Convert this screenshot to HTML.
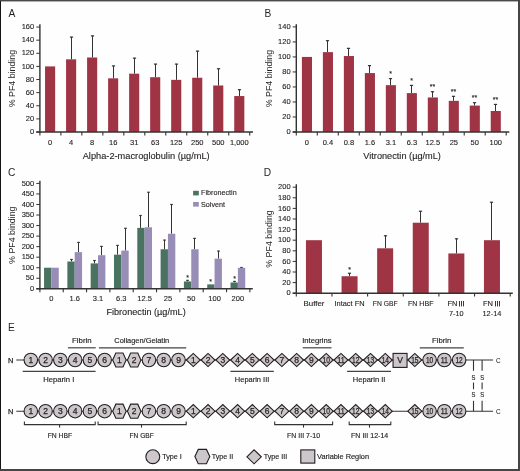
<!DOCTYPE html>
<html><head><meta charset="utf-8"><style>
html,body{margin:0;padding:0;background:#fff;}
body{width:520px;height:471px;overflow:hidden;position:relative;}
svg{position:absolute;left:0;top:0;display:block;will-change:transform;}
svg text{font-family:"Liberation Sans", sans-serif;}
.bl{position:absolute;left:0;top:0;width:1px;height:471px;background:#151515;}
.bt{position:absolute;left:0;top:0;width:520px;height:1px;background:#4a4a4a;}
.bt2{position:absolute;left:1px;top:1px;width:517px;height:1px;background:#b0b0b0;}
.br{position:absolute;left:518px;top:0;width:2px;height:471px;background:#454545;}
.bb{position:absolute;left:0;top:469px;width:520px;height:2px;background:#454545;}
</style></head><body>
<svg width="520" height="471" viewBox="0 0 520 471">
<rect x="0" y="0" width="520" height="471" fill="#fefefe"/>
<text x="8.40" y="16.50" font-size="10.2" text-anchor="start" fill="#231f20">A</text>
<line x1="39.90" y1="24.20" x2="39.90" y2="132.75" stroke="#333333" stroke-width="1.4"/>
<line x1="36.30" y1="132.00" x2="39.90" y2="132.00" stroke="#333333" stroke-width="1.0"/>
<text x="34.20" y="134.20" font-size="7.5" text-anchor="end" fill="#231f20" stroke="#231f20" stroke-width="0.12">0</text>
<line x1="36.30" y1="118.88" x2="39.90" y2="118.88" stroke="#333333" stroke-width="1.0"/>
<text x="34.20" y="121.08" font-size="7.5" text-anchor="end" fill="#231f20" stroke="#231f20" stroke-width="0.12">20</text>
<line x1="36.30" y1="105.76" x2="39.90" y2="105.76" stroke="#333333" stroke-width="1.0"/>
<text x="34.20" y="107.96" font-size="7.5" text-anchor="end" fill="#231f20" stroke="#231f20" stroke-width="0.12">40</text>
<line x1="36.30" y1="92.64" x2="39.90" y2="92.64" stroke="#333333" stroke-width="1.0"/>
<text x="34.20" y="94.84" font-size="7.5" text-anchor="end" fill="#231f20" stroke="#231f20" stroke-width="0.12">60</text>
<line x1="36.30" y1="79.52" x2="39.90" y2="79.52" stroke="#333333" stroke-width="1.0"/>
<text x="34.20" y="81.72" font-size="7.5" text-anchor="end" fill="#231f20" stroke="#231f20" stroke-width="0.12">80</text>
<line x1="36.30" y1="66.40" x2="39.90" y2="66.40" stroke="#333333" stroke-width="1.0"/>
<text x="34.20" y="68.60" font-size="7.5" text-anchor="end" fill="#231f20" stroke="#231f20" stroke-width="0.12">100</text>
<line x1="36.30" y1="53.28" x2="39.90" y2="53.28" stroke="#333333" stroke-width="1.0"/>
<text x="34.20" y="55.48" font-size="7.5" text-anchor="end" fill="#231f20" stroke="#231f20" stroke-width="0.12">120</text>
<line x1="36.30" y1="40.16" x2="39.90" y2="40.16" stroke="#333333" stroke-width="1.0"/>
<text x="34.20" y="42.36" font-size="7.5" text-anchor="end" fill="#231f20" stroke="#231f20" stroke-width="0.12">140</text>
<line x1="36.30" y1="27.04" x2="39.90" y2="27.04" stroke="#333333" stroke-width="1.0"/>
<text x="34.20" y="29.24" font-size="7.5" text-anchor="end" fill="#231f20" stroke="#231f20" stroke-width="0.12">160</text>
<rect x="45.05" y="66.40" width="10.10" height="65.60" fill="#9f3445"/>
<line x1="71.50" y1="59.32" x2="71.50" y2="36.88" stroke="#333" stroke-width="1.0"/>
<line x1="69.90" y1="37.08" x2="73.10" y2="37.08" stroke="#333" stroke-width="1.2"/>
<rect x="66.07" y="59.32" width="10.10" height="72.68" fill="#9f3445"/>
<line x1="92.50" y1="57.48" x2="92.50" y2="35.70" stroke="#333" stroke-width="1.0"/>
<line x1="90.90" y1="35.90" x2="94.10" y2="35.90" stroke="#333" stroke-width="1.2"/>
<rect x="87.09" y="57.48" width="10.10" height="74.52" fill="#9f3445"/>
<line x1="113.50" y1="78.34" x2="113.50" y2="65.74" stroke="#333" stroke-width="1.0"/>
<line x1="111.90" y1="65.94" x2="115.10" y2="65.94" stroke="#333" stroke-width="1.2"/>
<rect x="108.11" y="78.34" width="10.10" height="53.66" fill="#9f3445"/>
<line x1="134.50" y1="73.68" x2="134.50" y2="57.94" stroke="#333" stroke-width="1.0"/>
<line x1="132.90" y1="58.14" x2="136.10" y2="58.14" stroke="#333" stroke-width="1.2"/>
<rect x="129.13" y="73.68" width="10.10" height="58.32" fill="#9f3445"/>
<line x1="155.50" y1="77.22" x2="155.50" y2="63.91" stroke="#333" stroke-width="1.0"/>
<line x1="153.90" y1="64.11" x2="157.10" y2="64.11" stroke="#333" stroke-width="1.2"/>
<rect x="150.15" y="77.22" width="10.10" height="54.78" fill="#9f3445"/>
<line x1="176.50" y1="79.85" x2="176.50" y2="63.91" stroke="#333" stroke-width="1.0"/>
<line x1="174.90" y1="64.11" x2="178.10" y2="64.11" stroke="#333" stroke-width="1.2"/>
<rect x="171.17" y="79.85" width="10.10" height="52.15" fill="#9f3445"/>
<line x1="197.50" y1="77.75" x2="197.50" y2="50.92" stroke="#333" stroke-width="1.0"/>
<line x1="195.90" y1="51.12" x2="199.10" y2="51.12" stroke="#333" stroke-width="1.2"/>
<rect x="192.19" y="77.75" width="10.10" height="54.25" fill="#9f3445"/>
<line x1="218.50" y1="85.49" x2="218.50" y2="68.56" stroke="#333" stroke-width="1.0"/>
<line x1="216.90" y1="68.76" x2="220.10" y2="68.76" stroke="#333" stroke-width="1.2"/>
<rect x="213.21" y="85.49" width="10.10" height="46.51" fill="#9f3445"/>
<line x1="239.50" y1="96.05" x2="239.50" y2="89.49" stroke="#333" stroke-width="1.0"/>
<line x1="237.90" y1="89.69" x2="241.10" y2="89.69" stroke="#333" stroke-width="1.2"/>
<rect x="234.23" y="96.05" width="10.10" height="35.95" fill="#9f3445"/>
<line x1="36.30" y1="132.00" x2="253.00" y2="132.00" stroke="#333333" stroke-width="1.4"/>
<line x1="39.90" y1="132.00" x2="39.90" y2="135.40" stroke="#333333" stroke-width="1.1"/>
<line x1="60.88" y1="132.00" x2="60.88" y2="135.40" stroke="#333333" stroke-width="1.1"/>
<line x1="81.86" y1="132.00" x2="81.86" y2="135.40" stroke="#333333" stroke-width="1.1"/>
<line x1="102.84" y1="132.00" x2="102.84" y2="135.40" stroke="#333333" stroke-width="1.1"/>
<line x1="123.82" y1="132.00" x2="123.82" y2="135.40" stroke="#333333" stroke-width="1.1"/>
<line x1="144.80" y1="132.00" x2="144.80" y2="135.40" stroke="#333333" stroke-width="1.1"/>
<line x1="165.78" y1="132.00" x2="165.78" y2="135.40" stroke="#333333" stroke-width="1.1"/>
<line x1="186.76" y1="132.00" x2="186.76" y2="135.40" stroke="#333333" stroke-width="1.1"/>
<line x1="207.74" y1="132.00" x2="207.74" y2="135.40" stroke="#333333" stroke-width="1.1"/>
<line x1="228.72" y1="132.00" x2="228.72" y2="135.40" stroke="#333333" stroke-width="1.1"/>
<line x1="249.70" y1="132.00" x2="249.70" y2="135.40" stroke="#333333" stroke-width="1.1"/>
<text x="50.10" y="144.60" font-size="7.5" text-anchor="middle" fill="#231f20" stroke="#231f20" stroke-width="0.12">0</text>
<text x="71.12" y="144.60" font-size="7.5" text-anchor="middle" fill="#231f20" stroke="#231f20" stroke-width="0.12">4</text>
<text x="92.14" y="144.60" font-size="7.5" text-anchor="middle" fill="#231f20" stroke="#231f20" stroke-width="0.12">8</text>
<text x="113.16" y="144.60" font-size="7.5" text-anchor="middle" fill="#231f20" stroke="#231f20" stroke-width="0.12">16</text>
<text x="134.18" y="144.60" font-size="7.5" text-anchor="middle" fill="#231f20" stroke="#231f20" stroke-width="0.12">31</text>
<text x="155.20" y="144.60" font-size="7.5" text-anchor="middle" fill="#231f20" stroke="#231f20" stroke-width="0.12">63</text>
<text x="176.22" y="144.60" font-size="7.5" text-anchor="middle" fill="#231f20" stroke="#231f20" stroke-width="0.12">125</text>
<text x="197.24" y="144.60" font-size="7.5" text-anchor="middle" fill="#231f20" stroke="#231f20" stroke-width="0.12">250</text>
<text x="218.26" y="144.60" font-size="7.5" text-anchor="middle" fill="#231f20" stroke="#231f20" stroke-width="0.12">500</text>
<text x="239.28" y="144.60" font-size="7.5" text-anchor="middle" fill="#231f20" stroke="#231f20" stroke-width="0.12">1,000</text>
<text x="82.70" y="158.50" font-size="9.3" text-anchor="start" fill="#231f20" textLength="127.00" lengthAdjust="spacingAndGlyphs" stroke="#231f20" stroke-width="0.12">Alpha-2-macroglobulin (µg/mL)</text>
<text transform="translate(15.40,78.60) rotate(-90)" x="0" y="0" font-size="9.3" text-anchor="middle" fill="#231f20" textLength="57.4" lengthAdjust="spacingAndGlyphs">% PF4 binding</text>
<text x="264.60" y="16.60" font-size="10.2" text-anchor="start" fill="#231f20">B</text>
<line x1="296.30" y1="24.20" x2="296.30" y2="132.75" stroke="#333333" stroke-width="1.4"/>
<line x1="292.70" y1="132.00" x2="296.30" y2="132.00" stroke="#333333" stroke-width="1.0"/>
<text x="290.60" y="134.20" font-size="7.5" text-anchor="end" fill="#231f20" stroke="#231f20" stroke-width="0.12">0</text>
<line x1="292.70" y1="116.99" x2="296.30" y2="116.99" stroke="#333333" stroke-width="1.0"/>
<text x="290.60" y="119.19" font-size="7.5" text-anchor="end" fill="#231f20" stroke="#231f20" stroke-width="0.12">20</text>
<line x1="292.70" y1="101.97" x2="296.30" y2="101.97" stroke="#333333" stroke-width="1.0"/>
<text x="290.60" y="104.17" font-size="7.5" text-anchor="end" fill="#231f20" stroke="#231f20" stroke-width="0.12">40</text>
<line x1="292.70" y1="86.96" x2="296.30" y2="86.96" stroke="#333333" stroke-width="1.0"/>
<text x="290.60" y="89.16" font-size="7.5" text-anchor="end" fill="#231f20" stroke="#231f20" stroke-width="0.12">60</text>
<line x1="292.70" y1="71.94" x2="296.30" y2="71.94" stroke="#333333" stroke-width="1.0"/>
<text x="290.60" y="74.14" font-size="7.5" text-anchor="end" fill="#231f20" stroke="#231f20" stroke-width="0.12">80</text>
<line x1="292.70" y1="56.93" x2="296.30" y2="56.93" stroke="#333333" stroke-width="1.0"/>
<text x="290.60" y="59.13" font-size="7.5" text-anchor="end" fill="#231f20" stroke="#231f20" stroke-width="0.12">100</text>
<line x1="292.70" y1="41.92" x2="296.30" y2="41.92" stroke="#333333" stroke-width="1.0"/>
<text x="290.60" y="44.12" font-size="7.5" text-anchor="end" fill="#231f20" stroke="#231f20" stroke-width="0.12">120</text>
<line x1="292.70" y1="26.90" x2="296.30" y2="26.90" stroke="#333333" stroke-width="1.0"/>
<text x="290.60" y="29.10" font-size="7.5" text-anchor="end" fill="#231f20" stroke="#231f20" stroke-width="0.12">140</text>
<rect x="301.90" y="56.93" width="10.10" height="75.07" fill="#9f3445"/>
<line x1="327.50" y1="52.13" x2="327.50" y2="40.49" stroke="#333" stroke-width="1.0"/>
<line x1="325.90" y1="40.69" x2="329.10" y2="40.69" stroke="#333" stroke-width="1.2"/>
<rect x="322.88" y="52.13" width="10.10" height="79.87" fill="#9f3445"/>
<line x1="348.50" y1="56.03" x2="348.50" y2="48.15" stroke="#333" stroke-width="1.0"/>
<line x1="346.90" y1="48.35" x2="350.10" y2="48.35" stroke="#333" stroke-width="1.2"/>
<rect x="343.86" y="56.03" width="10.10" height="75.97" fill="#9f3445"/>
<line x1="369.50" y1="73.07" x2="369.50" y2="65.41" stroke="#333" stroke-width="1.0"/>
<line x1="367.90" y1="65.61" x2="371.10" y2="65.61" stroke="#333" stroke-width="1.2"/>
<rect x="364.84" y="73.07" width="10.10" height="58.93" fill="#9f3445"/>
<line x1="390.50" y1="85.16" x2="390.50" y2="78.40" stroke="#333" stroke-width="1.0"/>
<line x1="388.90" y1="78.60" x2="392.10" y2="78.60" stroke="#333" stroke-width="1.2"/>
<rect x="385.82" y="85.16" width="10.10" height="46.84" fill="#9f3445"/>
<text x="390.50" y="76.30" font-size="7.0" text-anchor="middle" fill="#231f20" stroke="#231f20" stroke-width="0.12">*</text>
<line x1="411.50" y1="93.11" x2="411.50" y2="85.23" stroke="#333" stroke-width="1.0"/>
<line x1="409.90" y1="85.43" x2="413.10" y2="85.43" stroke="#333" stroke-width="1.2"/>
<rect x="406.80" y="93.11" width="10.10" height="38.89" fill="#9f3445"/>
<text x="411.50" y="83.13" font-size="7.0" text-anchor="middle" fill="#231f20" stroke="#231f20" stroke-width="0.12">*</text>
<line x1="432.50" y1="97.47" x2="432.50" y2="91.54" stroke="#333" stroke-width="1.0"/>
<line x1="430.90" y1="91.74" x2="434.10" y2="91.74" stroke="#333" stroke-width="1.2"/>
<rect x="427.78" y="97.47" width="10.10" height="34.53" fill="#9f3445"/>
<text x="432.50" y="89.44" font-size="7.0" text-anchor="middle" fill="#231f20" stroke="#231f20" stroke-width="0.12">**</text>
<line x1="453.50" y1="100.85" x2="453.50" y2="96.12" stroke="#333" stroke-width="1.0"/>
<line x1="451.90" y1="96.32" x2="455.10" y2="96.32" stroke="#333" stroke-width="1.2"/>
<rect x="448.76" y="100.85" width="10.10" height="31.15" fill="#9f3445"/>
<text x="453.50" y="94.02" font-size="7.0" text-anchor="middle" fill="#231f20" stroke="#231f20" stroke-width="0.12">**</text>
<line x1="474.50" y1="105.58" x2="474.50" y2="102.50" stroke="#333" stroke-width="1.0"/>
<line x1="472.90" y1="102.70" x2="476.10" y2="102.70" stroke="#333" stroke-width="1.2"/>
<rect x="469.74" y="105.58" width="10.10" height="26.42" fill="#9f3445"/>
<text x="474.50" y="100.40" font-size="7.0" text-anchor="middle" fill="#231f20" stroke="#231f20" stroke-width="0.12">**</text>
<line x1="495.50" y1="110.98" x2="495.50" y2="104.22" stroke="#333" stroke-width="1.0"/>
<line x1="493.90" y1="104.42" x2="497.10" y2="104.42" stroke="#333" stroke-width="1.2"/>
<rect x="490.72" y="110.98" width="10.10" height="21.02" fill="#9f3445"/>
<text x="495.50" y="102.12" font-size="7.0" text-anchor="middle" fill="#231f20" stroke="#231f20" stroke-width="0.12">**</text>
<line x1="292.70" y1="132.00" x2="509.30" y2="132.00" stroke="#333333" stroke-width="1.4"/>
<line x1="296.30" y1="132.00" x2="296.30" y2="135.40" stroke="#333333" stroke-width="1.1"/>
<line x1="317.29" y1="132.00" x2="317.29" y2="135.40" stroke="#333333" stroke-width="1.1"/>
<line x1="338.28" y1="132.00" x2="338.28" y2="135.40" stroke="#333333" stroke-width="1.1"/>
<line x1="359.27" y1="132.00" x2="359.27" y2="135.40" stroke="#333333" stroke-width="1.1"/>
<line x1="380.26" y1="132.00" x2="380.26" y2="135.40" stroke="#333333" stroke-width="1.1"/>
<line x1="401.25" y1="132.00" x2="401.25" y2="135.40" stroke="#333333" stroke-width="1.1"/>
<line x1="422.24" y1="132.00" x2="422.24" y2="135.40" stroke="#333333" stroke-width="1.1"/>
<line x1="443.23" y1="132.00" x2="443.23" y2="135.40" stroke="#333333" stroke-width="1.1"/>
<line x1="464.22" y1="132.00" x2="464.22" y2="135.40" stroke="#333333" stroke-width="1.1"/>
<line x1="485.21" y1="132.00" x2="485.21" y2="135.40" stroke="#333333" stroke-width="1.1"/>
<line x1="506.20" y1="132.00" x2="506.20" y2="135.40" stroke="#333333" stroke-width="1.1"/>
<text x="306.95" y="144.70" font-size="7.5" text-anchor="middle" fill="#231f20" stroke="#231f20" stroke-width="0.12">0</text>
<text x="327.93" y="144.70" font-size="7.5" text-anchor="middle" fill="#231f20" stroke="#231f20" stroke-width="0.12">0.4</text>
<text x="348.91" y="144.70" font-size="7.5" text-anchor="middle" fill="#231f20" stroke="#231f20" stroke-width="0.12">0.8</text>
<text x="369.89" y="144.70" font-size="7.5" text-anchor="middle" fill="#231f20" stroke="#231f20" stroke-width="0.12">1.6</text>
<text x="390.87" y="144.70" font-size="7.5" text-anchor="middle" fill="#231f20" stroke="#231f20" stroke-width="0.12">3.1</text>
<text x="411.85" y="144.70" font-size="7.5" text-anchor="middle" fill="#231f20" stroke="#231f20" stroke-width="0.12">6.3</text>
<text x="432.83" y="144.70" font-size="7.5" text-anchor="middle" fill="#231f20" stroke="#231f20" stroke-width="0.12">12.5</text>
<text x="453.81" y="144.70" font-size="7.5" text-anchor="middle" fill="#231f20" stroke="#231f20" stroke-width="0.12">25</text>
<text x="474.79" y="144.70" font-size="7.5" text-anchor="middle" fill="#231f20" stroke="#231f20" stroke-width="0.12">50</text>
<text x="495.77" y="144.70" font-size="7.5" text-anchor="middle" fill="#231f20" stroke="#231f20" stroke-width="0.12">100</text>
<text x="363.30" y="158.80" font-size="9.3" text-anchor="start" fill="#231f20" textLength="77.60" lengthAdjust="spacingAndGlyphs" stroke="#231f20" stroke-width="0.12">Vitronectin (µg/mL)</text>
<text transform="translate(271.70,78.60) rotate(-90)" x="0" y="0" font-size="9.3" text-anchor="middle" fill="#231f20" textLength="57.4" lengthAdjust="spacingAndGlyphs">% PF4 binding</text>
<text x="8.00" y="175.60" font-size="10.2" text-anchor="start" fill="#231f20">C</text>
<line x1="39.90" y1="180.80" x2="39.90" y2="289.55" stroke="#333333" stroke-width="1.4"/>
<line x1="36.30" y1="288.80" x2="39.90" y2="288.80" stroke="#333333" stroke-width="1.0"/>
<text x="34.20" y="291.00" font-size="7.5" text-anchor="end" fill="#231f20" stroke="#231f20" stroke-width="0.12">0</text>
<line x1="36.30" y1="278.26" x2="39.90" y2="278.26" stroke="#333333" stroke-width="1.0"/>
<text x="34.20" y="280.46" font-size="7.5" text-anchor="end" fill="#231f20" stroke="#231f20" stroke-width="0.12">50</text>
<line x1="36.30" y1="267.72" x2="39.90" y2="267.72" stroke="#333333" stroke-width="1.0"/>
<text x="34.20" y="269.92" font-size="7.5" text-anchor="end" fill="#231f20" stroke="#231f20" stroke-width="0.12">100</text>
<line x1="36.30" y1="257.18" x2="39.90" y2="257.18" stroke="#333333" stroke-width="1.0"/>
<text x="34.20" y="259.38" font-size="7.5" text-anchor="end" fill="#231f20" stroke="#231f20" stroke-width="0.12">150</text>
<line x1="36.30" y1="246.64" x2="39.90" y2="246.64" stroke="#333333" stroke-width="1.0"/>
<text x="34.20" y="248.84" font-size="7.5" text-anchor="end" fill="#231f20" stroke="#231f20" stroke-width="0.12">200</text>
<line x1="36.30" y1="236.10" x2="39.90" y2="236.10" stroke="#333333" stroke-width="1.0"/>
<text x="34.20" y="238.30" font-size="7.5" text-anchor="end" fill="#231f20" stroke="#231f20" stroke-width="0.12">250</text>
<line x1="36.30" y1="225.56" x2="39.90" y2="225.56" stroke="#333333" stroke-width="1.0"/>
<text x="34.20" y="227.76" font-size="7.5" text-anchor="end" fill="#231f20" stroke="#231f20" stroke-width="0.12">300</text>
<line x1="36.30" y1="215.02" x2="39.90" y2="215.02" stroke="#333333" stroke-width="1.0"/>
<text x="34.20" y="217.22" font-size="7.5" text-anchor="end" fill="#231f20" stroke="#231f20" stroke-width="0.12">350</text>
<line x1="36.30" y1="204.48" x2="39.90" y2="204.48" stroke="#333333" stroke-width="1.0"/>
<text x="34.20" y="206.68" font-size="7.5" text-anchor="end" fill="#231f20" stroke="#231f20" stroke-width="0.12">400</text>
<line x1="36.30" y1="193.94" x2="39.90" y2="193.94" stroke="#333333" stroke-width="1.0"/>
<text x="34.20" y="196.14" font-size="7.5" text-anchor="end" fill="#231f20" stroke="#231f20" stroke-width="0.12">450</text>
<line x1="36.30" y1="183.40" x2="39.90" y2="183.40" stroke="#333333" stroke-width="1.0"/>
<text x="34.20" y="185.60" font-size="7.5" text-anchor="end" fill="#231f20" stroke="#231f20" stroke-width="0.12">500</text>
<rect x="44.05" y="267.72" width="7.35" height="21.08" fill="#4a7260"/>
<rect x="51.40" y="267.72" width="7.35" height="21.08" fill="#988db6"/>
<line x1="71.50" y1="261.50" x2="71.50" y2="259.29" stroke="#333" stroke-width="1.0"/>
<line x1="70.20" y1="259.49" x2="72.80" y2="259.49" stroke="#333" stroke-width="1.2"/>
<line x1="78.50" y1="252.16" x2="78.50" y2="242.21" stroke="#333" stroke-width="1.0"/>
<line x1="77.20" y1="242.41" x2="79.80" y2="242.41" stroke="#333" stroke-width="1.2"/>
<rect x="67.36" y="261.50" width="7.35" height="27.30" fill="#4a7260"/>
<rect x="74.71" y="252.16" width="7.35" height="36.64" fill="#988db6"/>
<line x1="94.50" y1="263.40" x2="94.50" y2="260.34" stroke="#333" stroke-width="1.0"/>
<line x1="93.20" y1="260.54" x2="95.80" y2="260.54" stroke="#333" stroke-width="1.2"/>
<line x1="101.50" y1="255.18" x2="101.50" y2="246.22" stroke="#333" stroke-width="1.0"/>
<line x1="100.20" y1="246.42" x2="102.80" y2="246.42" stroke="#333" stroke-width="1.2"/>
<rect x="90.67" y="263.40" width="7.35" height="25.40" fill="#4a7260"/>
<rect x="98.02" y="255.18" width="7.35" height="33.62" fill="#988db6"/>
<line x1="117.50" y1="254.65" x2="117.50" y2="245.23" stroke="#333" stroke-width="1.0"/>
<line x1="116.20" y1="245.43" x2="118.80" y2="245.43" stroke="#333" stroke-width="1.2"/>
<line x1="125.50" y1="250.56" x2="125.50" y2="228.09" stroke="#333" stroke-width="1.0"/>
<line x1="124.20" y1="228.29" x2="126.80" y2="228.29" stroke="#333" stroke-width="1.2"/>
<rect x="113.98" y="254.65" width="7.35" height="34.15" fill="#4a7260"/>
<rect x="121.33" y="250.56" width="7.35" height="38.24" fill="#988db6"/>
<line x1="140.50" y1="227.88" x2="140.50" y2="215.32" stroke="#333" stroke-width="1.0"/>
<line x1="139.20" y1="215.52" x2="141.80" y2="215.52" stroke="#333" stroke-width="1.2"/>
<line x1="148.50" y1="227.25" x2="148.50" y2="192.04" stroke="#333" stroke-width="1.0"/>
<line x1="147.20" y1="192.24" x2="149.80" y2="192.24" stroke="#333" stroke-width="1.2"/>
<rect x="137.29" y="227.88" width="7.35" height="60.92" fill="#4a7260"/>
<rect x="144.64" y="227.25" width="7.35" height="61.55" fill="#988db6"/>
<line x1="164.50" y1="249.25" x2="164.50" y2="239.89" stroke="#333" stroke-width="1.0"/>
<line x1="163.20" y1="240.09" x2="165.80" y2="240.09" stroke="#333" stroke-width="1.2"/>
<line x1="171.50" y1="233.78" x2="171.50" y2="204.27" stroke="#333" stroke-width="1.0"/>
<line x1="170.20" y1="204.47" x2="172.80" y2="204.47" stroke="#333" stroke-width="1.2"/>
<rect x="160.60" y="249.25" width="7.35" height="39.55" fill="#4a7260"/>
<rect x="167.95" y="233.78" width="7.35" height="55.02" fill="#988db6"/>
<line x1="187.50" y1="281.42" x2="187.50" y2="280.16" stroke="#333" stroke-width="1.0"/>
<line x1="186.20" y1="280.36" x2="188.80" y2="280.36" stroke="#333" stroke-width="1.2"/>
<line x1="194.50" y1="249.25" x2="194.50" y2="238.21" stroke="#333" stroke-width="1.0"/>
<line x1="193.20" y1="238.41" x2="195.80" y2="238.41" stroke="#333" stroke-width="1.2"/>
<rect x="183.91" y="281.42" width="7.35" height="7.38" fill="#4a7260"/>
<rect x="191.26" y="249.25" width="7.35" height="39.55" fill="#988db6"/>
<text x="187.50" y="280.06" font-size="7.0" text-anchor="middle" fill="#231f20" stroke="#231f20" stroke-width="0.12">*</text>
<line x1="218.50" y1="258.66" x2="218.50" y2="250.86" stroke="#333" stroke-width="1.0"/>
<line x1="217.20" y1="251.06" x2="219.80" y2="251.06" stroke="#333" stroke-width="1.2"/>
<rect x="207.22" y="284.37" width="7.35" height="4.43" fill="#4a7260"/>
<rect x="214.57" y="258.66" width="7.35" height="30.14" fill="#988db6"/>
<text x="210.50" y="284.27" font-size="7.0" text-anchor="middle" fill="#231f20" stroke="#231f20" stroke-width="0.12">*</text>
<line x1="234.50" y1="282.48" x2="234.50" y2="281.21" stroke="#333" stroke-width="1.0"/>
<line x1="233.20" y1="281.41" x2="235.80" y2="281.41" stroke="#333" stroke-width="1.2"/>
<line x1="241.50" y1="267.83" x2="241.50" y2="267.30" stroke="#333" stroke-width="1.0"/>
<line x1="240.20" y1="267.50" x2="242.80" y2="267.50" stroke="#333" stroke-width="1.2"/>
<rect x="230.53" y="282.48" width="7.35" height="6.32" fill="#4a7260"/>
<rect x="237.88" y="267.83" width="7.35" height="20.97" fill="#988db6"/>
<text x="234.50" y="281.11" font-size="7.0" text-anchor="middle" fill="#231f20" stroke="#231f20" stroke-width="0.12">*</text>
<line x1="36.30" y1="288.80" x2="252.80" y2="288.80" stroke="#333333" stroke-width="1.4"/>
<line x1="39.90" y1="288.80" x2="39.90" y2="292.20" stroke="#333333" stroke-width="1.1"/>
<line x1="63.23" y1="288.80" x2="63.23" y2="292.20" stroke="#333333" stroke-width="1.1"/>
<line x1="86.56" y1="288.80" x2="86.56" y2="292.20" stroke="#333333" stroke-width="1.1"/>
<line x1="109.89" y1="288.80" x2="109.89" y2="292.20" stroke="#333333" stroke-width="1.1"/>
<line x1="133.22" y1="288.80" x2="133.22" y2="292.20" stroke="#333333" stroke-width="1.1"/>
<line x1="156.55" y1="288.80" x2="156.55" y2="292.20" stroke="#333333" stroke-width="1.1"/>
<line x1="179.88" y1="288.80" x2="179.88" y2="292.20" stroke="#333333" stroke-width="1.1"/>
<line x1="203.21" y1="288.80" x2="203.21" y2="292.20" stroke="#333333" stroke-width="1.1"/>
<line x1="226.54" y1="288.80" x2="226.54" y2="292.20" stroke="#333333" stroke-width="1.1"/>
<line x1="249.87" y1="288.80" x2="249.87" y2="292.20" stroke="#333333" stroke-width="1.1"/>
<text x="51.40" y="301.20" font-size="7.5" text-anchor="middle" fill="#231f20" stroke="#231f20" stroke-width="0.12">0</text>
<text x="74.71" y="301.20" font-size="7.5" text-anchor="middle" fill="#231f20" stroke="#231f20" stroke-width="0.12">1.6</text>
<text x="98.02" y="301.20" font-size="7.5" text-anchor="middle" fill="#231f20" stroke="#231f20" stroke-width="0.12">3.1</text>
<text x="121.33" y="301.20" font-size="7.5" text-anchor="middle" fill="#231f20" stroke="#231f20" stroke-width="0.12">6.3</text>
<text x="144.64" y="301.20" font-size="7.5" text-anchor="middle" fill="#231f20" stroke="#231f20" stroke-width="0.12">12.5</text>
<text x="167.95" y="301.20" font-size="7.5" text-anchor="middle" fill="#231f20" stroke="#231f20" stroke-width="0.12">25</text>
<text x="191.26" y="301.20" font-size="7.5" text-anchor="middle" fill="#231f20" stroke="#231f20" stroke-width="0.12">50</text>
<text x="214.57" y="301.20" font-size="7.5" text-anchor="middle" fill="#231f20" stroke="#231f20" stroke-width="0.12">100</text>
<text x="237.88" y="301.20" font-size="7.5" text-anchor="middle" fill="#231f20" stroke="#231f20" stroke-width="0.12">200</text>
<text x="106.40" y="315.00" font-size="9.3" text-anchor="start" fill="#231f20" textLength="79.30" lengthAdjust="spacingAndGlyphs" stroke="#231f20" stroke-width="0.12">Fibronectin (µg/mL)</text>
<text transform="translate(15.40,235.20) rotate(-90)" x="0" y="0" font-size="9.3" text-anchor="middle" fill="#231f20" textLength="57.4" lengthAdjust="spacingAndGlyphs">% PF4 binding</text>
<rect x="193.10" y="190.80" width="5.70" height="4.60" fill="#4a7260"/>
<text x="201.05" y="195.40" font-size="7.6" text-anchor="start" fill="#231f20" textLength="35.60" lengthAdjust="spacingAndGlyphs" stroke="#231f20" stroke-width="0.12">Fibronectin</text>
<rect x="193.10" y="202.00" width="5.70" height="4.60" fill="#988db6"/>
<text x="201.05" y="206.60" font-size="7.6" text-anchor="start" fill="#231f20" textLength="24.00" lengthAdjust="spacingAndGlyphs" stroke="#231f20" stroke-width="0.12">Solvent</text>
<text x="263.80" y="175.50" font-size="10.2" text-anchor="start" fill="#231f20">D</text>
<line x1="296.30" y1="184.30" x2="296.30" y2="293.95" stroke="#333333" stroke-width="1.4"/>
<line x1="292.70" y1="293.20" x2="296.30" y2="293.20" stroke="#333333" stroke-width="1.0"/>
<text x="290.60" y="295.40" font-size="7.5" text-anchor="end" fill="#231f20" stroke="#231f20" stroke-width="0.12">0</text>
<line x1="292.70" y1="282.60" x2="296.30" y2="282.60" stroke="#333333" stroke-width="1.0"/>
<text x="290.60" y="284.80" font-size="7.5" text-anchor="end" fill="#231f20" stroke="#231f20" stroke-width="0.12">20</text>
<line x1="292.70" y1="272.00" x2="296.30" y2="272.00" stroke="#333333" stroke-width="1.0"/>
<text x="290.60" y="274.20" font-size="7.5" text-anchor="end" fill="#231f20" stroke="#231f20" stroke-width="0.12">40</text>
<line x1="292.70" y1="261.40" x2="296.30" y2="261.40" stroke="#333333" stroke-width="1.0"/>
<text x="290.60" y="263.60" font-size="7.5" text-anchor="end" fill="#231f20" stroke="#231f20" stroke-width="0.12">60</text>
<line x1="292.70" y1="250.80" x2="296.30" y2="250.80" stroke="#333333" stroke-width="1.0"/>
<text x="290.60" y="253.00" font-size="7.5" text-anchor="end" fill="#231f20" stroke="#231f20" stroke-width="0.12">80</text>
<line x1="292.70" y1="240.20" x2="296.30" y2="240.20" stroke="#333333" stroke-width="1.0"/>
<text x="290.60" y="242.40" font-size="7.5" text-anchor="end" fill="#231f20" stroke="#231f20" stroke-width="0.12">100</text>
<line x1="292.70" y1="229.60" x2="296.30" y2="229.60" stroke="#333333" stroke-width="1.0"/>
<text x="290.60" y="231.80" font-size="7.5" text-anchor="end" fill="#231f20" stroke="#231f20" stroke-width="0.12">120</text>
<line x1="292.70" y1="219.00" x2="296.30" y2="219.00" stroke="#333333" stroke-width="1.0"/>
<text x="290.60" y="221.20" font-size="7.5" text-anchor="end" fill="#231f20" stroke="#231f20" stroke-width="0.12">140</text>
<line x1="292.70" y1="208.40" x2="296.30" y2="208.40" stroke="#333333" stroke-width="1.0"/>
<text x="290.60" y="210.60" font-size="7.5" text-anchor="end" fill="#231f20" stroke="#231f20" stroke-width="0.12">160</text>
<line x1="292.70" y1="197.80" x2="296.30" y2="197.80" stroke="#333333" stroke-width="1.0"/>
<text x="290.60" y="200.00" font-size="7.5" text-anchor="end" fill="#231f20" stroke="#231f20" stroke-width="0.12">180</text>
<line x1="292.70" y1="187.20" x2="296.30" y2="187.20" stroke="#333333" stroke-width="1.0"/>
<text x="290.60" y="189.40" font-size="7.5" text-anchor="end" fill="#231f20" stroke="#231f20" stroke-width="0.12">200</text>
<rect x="305.95" y="240.20" width="16.00" height="53.00" fill="#9f3445"/>
<line x1="349.50" y1="276.24" x2="349.50" y2="273.06" stroke="#333" stroke-width="1.0"/>
<line x1="347.90" y1="273.26" x2="351.10" y2="273.26" stroke="#333" stroke-width="1.2"/>
<rect x="341.55" y="276.24" width="16.00" height="16.96" fill="#9f3445"/>
<text x="349.50" y="271.76" font-size="7.0" text-anchor="middle" fill="#231f20" stroke="#231f20" stroke-width="0.12">*</text>
<line x1="385.50" y1="248.31" x2="385.50" y2="235.59" stroke="#333" stroke-width="1.0"/>
<line x1="383.90" y1="235.79" x2="387.10" y2="235.79" stroke="#333" stroke-width="1.2"/>
<rect x="377.15" y="248.31" width="16.00" height="44.89" fill="#9f3445"/>
<line x1="420.50" y1="222.71" x2="420.50" y2="211.05" stroke="#333" stroke-width="1.0"/>
<line x1="418.90" y1="211.25" x2="422.10" y2="211.25" stroke="#333" stroke-width="1.2"/>
<rect x="412.75" y="222.71" width="16.00" height="70.49" fill="#9f3445"/>
<line x1="456.50" y1="253.45" x2="456.50" y2="238.61" stroke="#333" stroke-width="1.0"/>
<line x1="454.90" y1="238.81" x2="458.10" y2="238.81" stroke="#333" stroke-width="1.2"/>
<rect x="448.35" y="253.45" width="16.00" height="39.75" fill="#9f3445"/>
<line x1="491.50" y1="240.20" x2="491.50" y2="202.04" stroke="#333" stroke-width="1.0"/>
<line x1="489.90" y1="202.24" x2="493.10" y2="202.24" stroke="#333" stroke-width="1.2"/>
<rect x="483.95" y="240.20" width="16.00" height="53.00" fill="#9f3445"/>
<line x1="292.70" y1="293.20" x2="512.80" y2="293.20" stroke="#333333" stroke-width="1.4"/>
<line x1="296.30" y1="293.20" x2="296.30" y2="296.60" stroke="#333333" stroke-width="1.1"/>
<line x1="331.95" y1="293.20" x2="331.95" y2="296.60" stroke="#333333" stroke-width="1.1"/>
<line x1="367.60" y1="293.20" x2="367.60" y2="296.60" stroke="#333333" stroke-width="1.1"/>
<line x1="403.25" y1="293.20" x2="403.25" y2="296.60" stroke="#333333" stroke-width="1.1"/>
<line x1="438.90" y1="293.20" x2="438.90" y2="296.60" stroke="#333333" stroke-width="1.1"/>
<line x1="474.55" y1="293.20" x2="474.55" y2="296.60" stroke="#333333" stroke-width="1.1"/>
<line x1="510.20" y1="293.20" x2="510.20" y2="296.60" stroke="#333333" stroke-width="1.1"/>
<text x="313.95" y="306.40" font-size="7.5" text-anchor="middle" fill="#231f20" textLength="20.90" lengthAdjust="spacingAndGlyphs" stroke="#231f20" stroke-width="0.12">Buffer</text>
<text x="349.55" y="306.40" font-size="7.5" text-anchor="middle" fill="#231f20" textLength="30.10" lengthAdjust="spacingAndGlyphs" stroke="#231f20" stroke-width="0.12">Intact FN</text>
<text x="385.15" y="306.40" font-size="7.5" text-anchor="middle" fill="#231f20" textLength="24.70" lengthAdjust="spacingAndGlyphs" stroke="#231f20" stroke-width="0.12">FN GBF</text>
<text x="420.75" y="306.40" font-size="7.5" text-anchor="middle" fill="#231f20" textLength="25.50" lengthAdjust="spacingAndGlyphs" stroke="#231f20" stroke-width="0.12">FN HBF</text>
<text x="456.35" y="315.50" font-size="7.5" text-anchor="middle" fill="#231f20" textLength="14.60" lengthAdjust="spacingAndGlyphs" stroke="#231f20" stroke-width="0.12">7-10</text>
<text x="491.95" y="315.50" font-size="7.5" text-anchor="middle" fill="#231f20" textLength="18.90" lengthAdjust="spacingAndGlyphs" stroke="#231f20" stroke-width="0.12">12-14</text>
<text x="447.40" y="306.40" font-size="7.5" text-anchor="start" fill="#231f20" stroke="#231f20" stroke-width="0.12">FN</text>
<rect x="459.00" y="301.00" width="1.00" height="5.40" fill="#3a3a3a"/>
<rect x="461.00" y="301.00" width="1.00" height="5.40" fill="#3a3a3a"/>
<rect x="463.00" y="301.00" width="1.00" height="5.40" fill="#3a3a3a"/>
<text x="483.00" y="306.40" font-size="7.5" text-anchor="start" fill="#231f20" stroke="#231f20" stroke-width="0.12">FN</text>
<rect x="495.00" y="301.00" width="1.00" height="5.40" fill="#3a3a3a"/>
<rect x="497.00" y="301.00" width="1.00" height="5.40" fill="#3a3a3a"/>
<rect x="499.00" y="301.00" width="1.00" height="5.40" fill="#3a3a3a"/>
<text transform="translate(271.70,239.00) rotate(-90)" x="0" y="0" font-size="9.3" text-anchor="middle" fill="#231f20" textLength="57.4" lengthAdjust="spacingAndGlyphs">% PF4 binding</text>
<text x="7.90" y="331.10" font-size="10.2" text-anchor="start" fill="#231f20">E</text>
<line x1="16.30" y1="360.00" x2="493.00" y2="360.00" stroke="#333" stroke-width="1.1"/>
<text x="10.60" y="362.50" font-size="7.4" text-anchor="middle" fill="#231f20" stroke="#231f20" stroke-width="0.25">N</text>
<text x="498.20" y="362.60" font-size="7.6" text-anchor="middle" fill="#231f20" textLength="4.60" lengthAdjust="spacingAndGlyphs" stroke="#231f20" stroke-width="0.08">C</text>
<circle cx="30.80" cy="360.00" r="6.75" fill="#cdc7cb" stroke="#231f20" stroke-width="1.1"/>
<text x="30.80" y="362.75" font-size="8.5" text-anchor="middle" fill="#231f20" stroke="#231f20" stroke-width="0.25">1</text>
<circle cx="45.57" cy="360.00" r="6.75" fill="#cdc7cb" stroke="#231f20" stroke-width="1.1"/>
<text x="45.57" y="362.75" font-size="8.5" text-anchor="middle" fill="#231f20" stroke="#231f20" stroke-width="0.25">2</text>
<circle cx="60.34" cy="360.00" r="6.75" fill="#cdc7cb" stroke="#231f20" stroke-width="1.1"/>
<text x="60.34" y="362.75" font-size="8.5" text-anchor="middle" fill="#231f20" stroke="#231f20" stroke-width="0.25">3</text>
<circle cx="75.11" cy="360.00" r="6.75" fill="#cdc7cb" stroke="#231f20" stroke-width="1.1"/>
<text x="75.11" y="362.75" font-size="8.5" text-anchor="middle" fill="#231f20" stroke="#231f20" stroke-width="0.25">4</text>
<circle cx="89.88" cy="360.00" r="6.75" fill="#cdc7cb" stroke="#231f20" stroke-width="1.1"/>
<text x="89.88" y="362.75" font-size="8.5" text-anchor="middle" fill="#231f20" stroke="#231f20" stroke-width="0.25">5</text>
<circle cx="104.65" cy="360.00" r="6.75" fill="#cdc7cb" stroke="#231f20" stroke-width="1.1"/>
<text x="104.65" y="362.75" font-size="8.5" text-anchor="middle" fill="#231f20" stroke="#231f20" stroke-width="0.25">6</text>
<polygon points="112.67,360.00 115.84,352.95 123.00,352.95 126.17,360.00 123.00,367.05 115.84,367.05" fill="#cdc7cb" stroke="#231f20" stroke-width="1.1"/>
<text x="119.42" y="362.75" font-size="8.5" text-anchor="middle" fill="#231f20" stroke="#231f20" stroke-width="0.25">1</text>
<polygon points="127.44,360.00 130.61,352.95 137.77,352.95 140.94,360.00 137.77,367.05 130.61,367.05" fill="#cdc7cb" stroke="#231f20" stroke-width="1.1"/>
<text x="134.19" y="362.75" font-size="8.5" text-anchor="middle" fill="#231f20" stroke="#231f20" stroke-width="0.25">2</text>
<circle cx="148.96" cy="360.00" r="6.75" fill="#cdc7cb" stroke="#231f20" stroke-width="1.1"/>
<text x="148.96" y="362.75" font-size="8.5" text-anchor="middle" fill="#231f20" stroke="#231f20" stroke-width="0.25">7</text>
<circle cx="163.73" cy="360.00" r="6.75" fill="#cdc7cb" stroke="#231f20" stroke-width="1.1"/>
<text x="163.73" y="362.75" font-size="8.5" text-anchor="middle" fill="#231f20" stroke="#231f20" stroke-width="0.25">8</text>
<circle cx="178.50" cy="360.00" r="6.75" fill="#cdc7cb" stroke="#231f20" stroke-width="1.1"/>
<text x="178.50" y="362.75" font-size="8.5" text-anchor="middle" fill="#231f20" stroke="#231f20" stroke-width="0.25">9</text>
<polygon points="186.27,360.00 193.27,353.40 200.27,360.00 193.27,366.60" fill="#cdc7cb" stroke="#231f20" stroke-width="1.1" stroke-linejoin="miter"/>
<text x="193.27" y="362.75" font-size="8.5" text-anchor="middle" fill="#231f20" stroke="#231f20" stroke-width="0.25">1</text>
<polygon points="201.04,360.00 208.04,353.40 215.04,360.00 208.04,366.60" fill="#cdc7cb" stroke="#231f20" stroke-width="1.1" stroke-linejoin="miter"/>
<text x="208.04" y="362.75" font-size="8.5" text-anchor="middle" fill="#231f20" stroke="#231f20" stroke-width="0.25">2</text>
<polygon points="215.81,360.00 222.81,353.40 229.81,360.00 222.81,366.60" fill="#cdc7cb" stroke="#231f20" stroke-width="1.1" stroke-linejoin="miter"/>
<text x="222.81" y="362.75" font-size="8.5" text-anchor="middle" fill="#231f20" stroke="#231f20" stroke-width="0.25">3</text>
<polygon points="230.58,360.00 237.58,353.40 244.58,360.00 237.58,366.60" fill="#cdc7cb" stroke="#231f20" stroke-width="1.1" stroke-linejoin="miter"/>
<text x="237.58" y="362.75" font-size="8.5" text-anchor="middle" fill="#231f20" stroke="#231f20" stroke-width="0.25">4</text>
<polygon points="245.35,360.00 252.35,353.40 259.35,360.00 252.35,366.60" fill="#cdc7cb" stroke="#231f20" stroke-width="1.1" stroke-linejoin="miter"/>
<text x="252.35" y="362.75" font-size="8.5" text-anchor="middle" fill="#231f20" stroke="#231f20" stroke-width="0.25">5</text>
<polygon points="260.12,360.00 267.12,353.40 274.12,360.00 267.12,366.60" fill="#cdc7cb" stroke="#231f20" stroke-width="1.1" stroke-linejoin="miter"/>
<text x="267.12" y="362.75" font-size="8.5" text-anchor="middle" fill="#231f20" stroke="#231f20" stroke-width="0.25">6</text>
<polygon points="274.89,360.00 281.89,353.40 288.89,360.00 281.89,366.60" fill="#cdc7cb" stroke="#231f20" stroke-width="1.1" stroke-linejoin="miter"/>
<text x="281.89" y="362.75" font-size="8.5" text-anchor="middle" fill="#231f20" stroke="#231f20" stroke-width="0.25">7</text>
<polygon points="289.66,360.00 296.66,353.40 303.66,360.00 296.66,366.60" fill="#cdc7cb" stroke="#231f20" stroke-width="1.1" stroke-linejoin="miter"/>
<text x="296.66" y="362.75" font-size="8.5" text-anchor="middle" fill="#231f20" stroke="#231f20" stroke-width="0.25">8</text>
<polygon points="304.43,360.00 311.43,353.40 318.43,360.00 311.43,366.60" fill="#cdc7cb" stroke="#231f20" stroke-width="1.1" stroke-linejoin="miter"/>
<text x="311.43" y="362.75" font-size="8.5" text-anchor="middle" fill="#231f20" stroke="#231f20" stroke-width="0.25">9</text>
<polygon points="319.20,360.00 326.20,353.40 333.20,360.00 326.20,366.60" fill="#cdc7cb" stroke="#231f20" stroke-width="1.1" stroke-linejoin="miter"/>
<text x="326.20" y="362.75" font-size="8.5" text-anchor="middle" fill="#231f20" textLength="7.30" lengthAdjust="spacingAndGlyphs" stroke="#231f20" stroke-width="0.25">10</text>
<polygon points="333.97,360.00 340.97,353.40 347.97,360.00 340.97,366.60" fill="#cdc7cb" stroke="#231f20" stroke-width="1.1" stroke-linejoin="miter"/>
<text x="340.97" y="362.75" font-size="8.5" text-anchor="middle" fill="#231f20" textLength="7.30" lengthAdjust="spacingAndGlyphs" stroke="#231f20" stroke-width="0.25">11</text>
<polygon points="348.74,360.00 355.74,353.40 362.74,360.00 355.74,366.60" fill="#cdc7cb" stroke="#231f20" stroke-width="1.1" stroke-linejoin="miter"/>
<text x="355.74" y="362.75" font-size="8.5" text-anchor="middle" fill="#231f20" textLength="7.30" lengthAdjust="spacingAndGlyphs" stroke="#231f20" stroke-width="0.25">12</text>
<polygon points="363.51,360.00 370.51,353.40 377.51,360.00 370.51,366.60" fill="#cdc7cb" stroke="#231f20" stroke-width="1.1" stroke-linejoin="miter"/>
<text x="370.51" y="362.75" font-size="8.5" text-anchor="middle" fill="#231f20" textLength="7.30" lengthAdjust="spacingAndGlyphs" stroke="#231f20" stroke-width="0.25">13</text>
<polygon points="378.28,360.00 385.28,353.40 392.28,360.00 385.28,366.60" fill="#cdc7cb" stroke="#231f20" stroke-width="1.1" stroke-linejoin="miter"/>
<text x="385.28" y="362.75" font-size="8.5" text-anchor="middle" fill="#231f20" textLength="7.30" lengthAdjust="spacingAndGlyphs" stroke="#231f20" stroke-width="0.25">14</text>
<rect x="393.05" y="353.40" width="14.0" height="14.0" fill="#cdc7cb" stroke="#231f20" stroke-width="1.1"/>
<text x="400.05" y="363.15" font-size="8.5" text-anchor="middle" fill="#231f20" stroke="#231f20" stroke-width="0.25">V</text>
<polygon points="407.82,360.00 414.82,353.40 421.82,360.00 414.82,366.60" fill="#cdc7cb" stroke="#231f20" stroke-width="1.1" stroke-linejoin="miter"/>
<text x="414.82" y="362.75" font-size="8.5" text-anchor="middle" fill="#231f20" textLength="7.30" lengthAdjust="spacingAndGlyphs" stroke="#231f20" stroke-width="0.25">15</text>
<circle cx="429.59" cy="360.00" r="6.75" fill="#cdc7cb" stroke="#231f20" stroke-width="1.1"/>
<text x="429.59" y="362.75" font-size="8.5" text-anchor="middle" fill="#231f20" textLength="7.30" lengthAdjust="spacingAndGlyphs" stroke="#231f20" stroke-width="0.25">10</text>
<circle cx="444.36" cy="360.00" r="6.75" fill="#cdc7cb" stroke="#231f20" stroke-width="1.1"/>
<text x="444.36" y="362.75" font-size="8.5" text-anchor="middle" fill="#231f20" textLength="7.30" lengthAdjust="spacingAndGlyphs" stroke="#231f20" stroke-width="0.25">11</text>
<circle cx="459.13" cy="360.00" r="6.75" fill="#cdc7cb" stroke="#231f20" stroke-width="1.1"/>
<text x="459.13" y="362.75" font-size="8.5" text-anchor="middle" fill="#231f20" textLength="7.30" lengthAdjust="spacingAndGlyphs" stroke="#231f20" stroke-width="0.25">12</text>
<line x1="16.30" y1="411.20" x2="493.00" y2="411.20" stroke="#333" stroke-width="1.1"/>
<text x="10.60" y="413.70" font-size="7.4" text-anchor="middle" fill="#231f20" stroke="#231f20" stroke-width="0.25">N</text>
<text x="498.20" y="413.80" font-size="7.6" text-anchor="middle" fill="#231f20" textLength="4.60" lengthAdjust="spacingAndGlyphs" stroke="#231f20" stroke-width="0.08">C</text>
<circle cx="30.80" cy="411.20" r="6.75" fill="#cdc7cb" stroke="#231f20" stroke-width="1.1"/>
<text x="30.80" y="413.95" font-size="8.5" text-anchor="middle" fill="#231f20" stroke="#231f20" stroke-width="0.25">1</text>
<circle cx="45.57" cy="411.20" r="6.75" fill="#cdc7cb" stroke="#231f20" stroke-width="1.1"/>
<text x="45.57" y="413.95" font-size="8.5" text-anchor="middle" fill="#231f20" stroke="#231f20" stroke-width="0.25">2</text>
<circle cx="60.34" cy="411.20" r="6.75" fill="#cdc7cb" stroke="#231f20" stroke-width="1.1"/>
<text x="60.34" y="413.95" font-size="8.5" text-anchor="middle" fill="#231f20" stroke="#231f20" stroke-width="0.25">3</text>
<circle cx="75.11" cy="411.20" r="6.75" fill="#cdc7cb" stroke="#231f20" stroke-width="1.1"/>
<text x="75.11" y="413.95" font-size="8.5" text-anchor="middle" fill="#231f20" stroke="#231f20" stroke-width="0.25">4</text>
<circle cx="89.88" cy="411.20" r="6.75" fill="#cdc7cb" stroke="#231f20" stroke-width="1.1"/>
<text x="89.88" y="413.95" font-size="8.5" text-anchor="middle" fill="#231f20" stroke="#231f20" stroke-width="0.25">5</text>
<circle cx="104.65" cy="411.20" r="6.75" fill="#cdc7cb" stroke="#231f20" stroke-width="1.1"/>
<text x="104.65" y="413.95" font-size="8.5" text-anchor="middle" fill="#231f20" stroke="#231f20" stroke-width="0.25">6</text>
<polygon points="112.67,411.20 115.84,404.15 123.00,404.15 126.17,411.20 123.00,418.25 115.84,418.25" fill="#cdc7cb" stroke="#231f20" stroke-width="1.1"/>
<text x="119.42" y="413.95" font-size="8.5" text-anchor="middle" fill="#231f20" stroke="#231f20" stroke-width="0.25">1</text>
<polygon points="127.44,411.20 130.61,404.15 137.77,404.15 140.94,411.20 137.77,418.25 130.61,418.25" fill="#cdc7cb" stroke="#231f20" stroke-width="1.1"/>
<text x="134.19" y="413.95" font-size="8.5" text-anchor="middle" fill="#231f20" stroke="#231f20" stroke-width="0.25">2</text>
<circle cx="148.96" cy="411.20" r="6.75" fill="#cdc7cb" stroke="#231f20" stroke-width="1.1"/>
<text x="148.96" y="413.95" font-size="8.5" text-anchor="middle" fill="#231f20" stroke="#231f20" stroke-width="0.25">7</text>
<circle cx="163.73" cy="411.20" r="6.75" fill="#cdc7cb" stroke="#231f20" stroke-width="1.1"/>
<text x="163.73" y="413.95" font-size="8.5" text-anchor="middle" fill="#231f20" stroke="#231f20" stroke-width="0.25">8</text>
<circle cx="178.50" cy="411.20" r="6.75" fill="#cdc7cb" stroke="#231f20" stroke-width="1.1"/>
<text x="178.50" y="413.95" font-size="8.5" text-anchor="middle" fill="#231f20" stroke="#231f20" stroke-width="0.25">9</text>
<polygon points="186.27,411.20 193.27,404.60 200.27,411.20 193.27,417.80" fill="#cdc7cb" stroke="#231f20" stroke-width="1.1" stroke-linejoin="miter"/>
<text x="193.27" y="413.95" font-size="8.5" text-anchor="middle" fill="#231f20" stroke="#231f20" stroke-width="0.25">1</text>
<polygon points="201.04,411.20 208.04,404.60 215.04,411.20 208.04,417.80" fill="#cdc7cb" stroke="#231f20" stroke-width="1.1" stroke-linejoin="miter"/>
<text x="208.04" y="413.95" font-size="8.5" text-anchor="middle" fill="#231f20" stroke="#231f20" stroke-width="0.25">2</text>
<polygon points="215.81,411.20 222.81,404.60 229.81,411.20 222.81,417.80" fill="#cdc7cb" stroke="#231f20" stroke-width="1.1" stroke-linejoin="miter"/>
<text x="222.81" y="413.95" font-size="8.5" text-anchor="middle" fill="#231f20" stroke="#231f20" stroke-width="0.25">3</text>
<polygon points="230.58,411.20 237.58,404.60 244.58,411.20 237.58,417.80" fill="#cdc7cb" stroke="#231f20" stroke-width="1.1" stroke-linejoin="miter"/>
<text x="237.58" y="413.95" font-size="8.5" text-anchor="middle" fill="#231f20" stroke="#231f20" stroke-width="0.25">4</text>
<polygon points="245.35,411.20 252.35,404.60 259.35,411.20 252.35,417.80" fill="#cdc7cb" stroke="#231f20" stroke-width="1.1" stroke-linejoin="miter"/>
<text x="252.35" y="413.95" font-size="8.5" text-anchor="middle" fill="#231f20" stroke="#231f20" stroke-width="0.25">5</text>
<polygon points="260.12,411.20 267.12,404.60 274.12,411.20 267.12,417.80" fill="#cdc7cb" stroke="#231f20" stroke-width="1.1" stroke-linejoin="miter"/>
<text x="267.12" y="413.95" font-size="8.5" text-anchor="middle" fill="#231f20" stroke="#231f20" stroke-width="0.25">6</text>
<polygon points="274.89,411.20 281.89,404.60 288.89,411.20 281.89,417.80" fill="#cdc7cb" stroke="#231f20" stroke-width="1.1" stroke-linejoin="miter"/>
<text x="281.89" y="413.95" font-size="8.5" text-anchor="middle" fill="#231f20" stroke="#231f20" stroke-width="0.25">7</text>
<polygon points="289.66,411.20 296.66,404.60 303.66,411.20 296.66,417.80" fill="#cdc7cb" stroke="#231f20" stroke-width="1.1" stroke-linejoin="miter"/>
<text x="296.66" y="413.95" font-size="8.5" text-anchor="middle" fill="#231f20" stroke="#231f20" stroke-width="0.25">8</text>
<polygon points="304.43,411.20 311.43,404.60 318.43,411.20 311.43,417.80" fill="#cdc7cb" stroke="#231f20" stroke-width="1.1" stroke-linejoin="miter"/>
<text x="311.43" y="413.95" font-size="8.5" text-anchor="middle" fill="#231f20" stroke="#231f20" stroke-width="0.25">9</text>
<polygon points="319.20,411.20 326.20,404.60 333.20,411.20 326.20,417.80" fill="#cdc7cb" stroke="#231f20" stroke-width="1.1" stroke-linejoin="miter"/>
<text x="326.20" y="413.95" font-size="8.5" text-anchor="middle" fill="#231f20" textLength="7.30" lengthAdjust="spacingAndGlyphs" stroke="#231f20" stroke-width="0.25">10</text>
<polygon points="333.97,411.20 340.97,404.60 347.97,411.20 340.97,417.80" fill="#cdc7cb" stroke="#231f20" stroke-width="1.1" stroke-linejoin="miter"/>
<text x="340.97" y="413.95" font-size="8.5" text-anchor="middle" fill="#231f20" textLength="7.30" lengthAdjust="spacingAndGlyphs" stroke="#231f20" stroke-width="0.25">11</text>
<polygon points="348.74,411.20 355.74,404.60 362.74,411.20 355.74,417.80" fill="#cdc7cb" stroke="#231f20" stroke-width="1.1" stroke-linejoin="miter"/>
<text x="355.74" y="413.95" font-size="8.5" text-anchor="middle" fill="#231f20" textLength="7.30" lengthAdjust="spacingAndGlyphs" stroke="#231f20" stroke-width="0.25">12</text>
<polygon points="363.51,411.20 370.51,404.60 377.51,411.20 370.51,417.80" fill="#cdc7cb" stroke="#231f20" stroke-width="1.1" stroke-linejoin="miter"/>
<text x="370.51" y="413.95" font-size="8.5" text-anchor="middle" fill="#231f20" textLength="7.30" lengthAdjust="spacingAndGlyphs" stroke="#231f20" stroke-width="0.25">13</text>
<polygon points="378.28,411.20 385.28,404.60 392.28,411.20 385.28,417.80" fill="#cdc7cb" stroke="#231f20" stroke-width="1.1" stroke-linejoin="miter"/>
<text x="385.28" y="413.95" font-size="8.5" text-anchor="middle" fill="#231f20" textLength="7.30" lengthAdjust="spacingAndGlyphs" stroke="#231f20" stroke-width="0.25">14</text>
<polygon points="407.82,411.20 414.82,404.60 421.82,411.20 414.82,417.80" fill="#cdc7cb" stroke="#231f20" stroke-width="1.1" stroke-linejoin="miter"/>
<text x="414.82" y="413.95" font-size="8.5" text-anchor="middle" fill="#231f20" textLength="7.30" lengthAdjust="spacingAndGlyphs" stroke="#231f20" stroke-width="0.25">15</text>
<circle cx="429.59" cy="411.20" r="6.75" fill="#cdc7cb" stroke="#231f20" stroke-width="1.1"/>
<text x="429.59" y="413.95" font-size="8.5" text-anchor="middle" fill="#231f20" textLength="7.30" lengthAdjust="spacingAndGlyphs" stroke="#231f20" stroke-width="0.25">10</text>
<circle cx="444.36" cy="411.20" r="6.75" fill="#cdc7cb" stroke="#231f20" stroke-width="1.1"/>
<text x="444.36" y="413.95" font-size="8.5" text-anchor="middle" fill="#231f20" textLength="7.30" lengthAdjust="spacingAndGlyphs" stroke="#231f20" stroke-width="0.25">11</text>
<circle cx="459.13" cy="411.20" r="6.75" fill="#cdc7cb" stroke="#231f20" stroke-width="1.1"/>
<text x="459.13" y="413.95" font-size="8.5" text-anchor="middle" fill="#231f20" textLength="7.30" lengthAdjust="spacingAndGlyphs" stroke="#231f20" stroke-width="0.25">12</text>
<line x1="67.90" y1="347.80" x2="95.70" y2="347.80" stroke="#444" stroke-width="1.2"/>
<text x="72.05" y="342.70" font-size="7.3" text-anchor="start" fill="#231f20" textLength="19.60" lengthAdjust="spacingAndGlyphs" stroke="#231f20" stroke-width="0.15">Fibrin</text>
<line x1="98.90" y1="347.80" x2="186.20" y2="347.80" stroke="#444" stroke-width="1.2"/>
<text x="114.30" y="342.70" font-size="7.3" text-anchor="start" fill="#231f20" textLength="54.90" lengthAdjust="spacingAndGlyphs" stroke="#231f20" stroke-width="0.15">Collagen/Gelatin</text>
<line x1="302.70" y1="347.80" x2="331.50" y2="347.80" stroke="#444" stroke-width="1.2"/>
<text x="302.15" y="342.70" font-size="7.3" text-anchor="start" fill="#231f20" textLength="29.60" lengthAdjust="spacingAndGlyphs" stroke="#231f20" stroke-width="0.15">Integrins</text>
<line x1="419.80" y1="347.80" x2="463.80" y2="347.80" stroke="#444" stroke-width="1.2"/>
<text x="432.05" y="342.70" font-size="7.3" text-anchor="start" fill="#231f20" textLength="19.30" lengthAdjust="spacingAndGlyphs" stroke="#231f20" stroke-width="0.15">Fibrin</text>
<line x1="22.70" y1="371.30" x2="95.60" y2="371.30" stroke="#444" stroke-width="1.2"/>
<text x="43.35" y="381.60" font-size="7.3" text-anchor="start" fill="#231f20" textLength="30.90" lengthAdjust="spacingAndGlyphs" stroke="#231f20" stroke-width="0.15">Heparin I</text>
<line x1="230.40" y1="371.30" x2="273.80" y2="371.30" stroke="#444" stroke-width="1.2"/>
<text x="234.85" y="381.60" font-size="7.3" text-anchor="start" fill="#231f20" textLength="34.50" lengthAdjust="spacingAndGlyphs" stroke="#231f20" stroke-width="0.15">Heparin III</text>
<line x1="347.10" y1="371.30" x2="391.00" y2="371.30" stroke="#444" stroke-width="1.2"/>
<text x="352.85" y="381.60" font-size="7.3" text-anchor="start" fill="#231f20" textLength="32.60" lengthAdjust="spacingAndGlyphs" stroke="#231f20" stroke-width="0.15">Heparin II</text>
<line x1="473.50" y1="360.00" x2="473.50" y2="370.80" stroke="#333" stroke-width="1.1"/>
<text x="473.50" y="379.80" font-size="7.4" text-anchor="middle" fill="#231f20" textLength="3.90" lengthAdjust="spacingAndGlyphs" stroke="#231f20" stroke-width="0.15">S</text>
<line x1="473.50" y1="382.50" x2="473.50" y2="389.20" stroke="#333" stroke-width="1.1"/>
<text x="473.50" y="396.70" font-size="7.4" text-anchor="middle" fill="#231f20" textLength="3.90" lengthAdjust="spacingAndGlyphs" stroke="#231f20" stroke-width="0.15">S</text>
<line x1="473.50" y1="400.80" x2="473.50" y2="411.20" stroke="#333" stroke-width="1.1"/>
<line x1="482.10" y1="360.00" x2="482.10" y2="370.80" stroke="#333" stroke-width="1.1"/>
<text x="482.10" y="379.80" font-size="7.4" text-anchor="middle" fill="#231f20" textLength="3.90" lengthAdjust="spacingAndGlyphs" stroke="#231f20" stroke-width="0.15">S</text>
<line x1="482.10" y1="382.50" x2="482.10" y2="389.20" stroke="#333" stroke-width="1.1"/>
<text x="482.10" y="396.70" font-size="7.4" text-anchor="middle" fill="#231f20" textLength="3.90" lengthAdjust="spacingAndGlyphs" stroke="#231f20" stroke-width="0.15">S</text>
<line x1="482.10" y1="400.80" x2="482.10" y2="411.20" stroke="#333" stroke-width="1.1"/>
<polyline points="24.40,421.6 24.40,424.6 95.20,424.6 95.20,421.6" fill="none" stroke="#333" stroke-width="1.1"/>
<line x1="59.60" y1="424.60" x2="59.60" y2="427.60" stroke="#333" stroke-width="1.1"/>
<text x="47.65" y="438.40" font-size="7.3" text-anchor="start" fill="#231f20" textLength="24.50" lengthAdjust="spacingAndGlyphs" stroke="#231f20" stroke-width="0.15">FN HBF</text>
<polyline points="98.10,421.6 98.10,424.6 186.20,424.6 186.20,421.6" fill="none" stroke="#333" stroke-width="1.1"/>
<line x1="141.50" y1="424.60" x2="141.50" y2="427.60" stroke="#333" stroke-width="1.1"/>
<text x="129.55" y="438.40" font-size="7.3" text-anchor="start" fill="#231f20" textLength="24.20" lengthAdjust="spacingAndGlyphs" stroke="#231f20" stroke-width="0.15">FN GBF</text>
<polyline points="274.70,421.6 274.70,424.6 332.60,424.6 332.60,421.6" fill="none" stroke="#333" stroke-width="1.1"/>
<line x1="303.50" y1="424.60" x2="303.50" y2="427.60" stroke="#333" stroke-width="1.1"/>
<text x="287.05" y="438.40" font-size="7.3" text-anchor="start" fill="#231f20" textLength="33.00" lengthAdjust="spacingAndGlyphs" stroke="#231f20" stroke-width="0.15">FN III 7-10</text>
<polyline points="349.20,421.6 349.20,424.6 390.80,424.6 390.80,421.6" fill="none" stroke="#333" stroke-width="1.1"/>
<line x1="369.50" y1="424.60" x2="369.50" y2="427.60" stroke="#333" stroke-width="1.1"/>
<text x="351.05" y="438.40" font-size="7.3" text-anchor="start" fill="#231f20" textLength="37.20" lengthAdjust="spacingAndGlyphs" stroke="#231f20" stroke-width="0.15">FN III 12-14</text>
<circle cx="152.80" cy="456.70" r="6.95" fill="#cdc7cb" stroke="#231f20" stroke-width="1.1"/>
<text x="162.25" y="458.70" font-size="7.3" text-anchor="start" fill="#231f20" textLength="19.60" lengthAdjust="spacingAndGlyphs" stroke="#231f20" stroke-width="0.15">Type I</text>
<polygon points="194.90,456.60 198.25,449.40 206.45,449.40 209.80,456.60 206.45,463.80 198.25,463.80" fill="#cdc7cb" stroke="#231f20" stroke-width="1.1"/>
<text x="211.75" y="458.70" font-size="7.3" text-anchor="start" fill="#231f20" textLength="21.60" lengthAdjust="spacingAndGlyphs" stroke="#231f20" stroke-width="0.15">Type II</text>
<polygon points="246.90,456.80 254.10,449.80 261.30,456.80 254.10,463.80" fill="#cdc7cb" stroke="#231f20" stroke-width="1.1" stroke-linejoin="miter"/>
<text x="263.75" y="458.70" font-size="7.3" text-anchor="start" fill="#231f20" textLength="23.50" lengthAdjust="spacingAndGlyphs" stroke="#231f20" stroke-width="0.15">Type III</text>
<rect x="300.8" y="449.9" width="14.0" height="13.2" fill="#cdc7cb" stroke="#231f20" stroke-width="1.1"/>
<text x="317.05" y="458.70" font-size="7.3" text-anchor="start" fill="#231f20" textLength="52.00" lengthAdjust="spacingAndGlyphs" stroke="#231f20" stroke-width="0.15">Variable Region</text>
</svg>
<div class="bl"></div><div class="bt"></div><div class="bt2"></div><div class="br"></div><div class="bb"></div>
</body></html>
